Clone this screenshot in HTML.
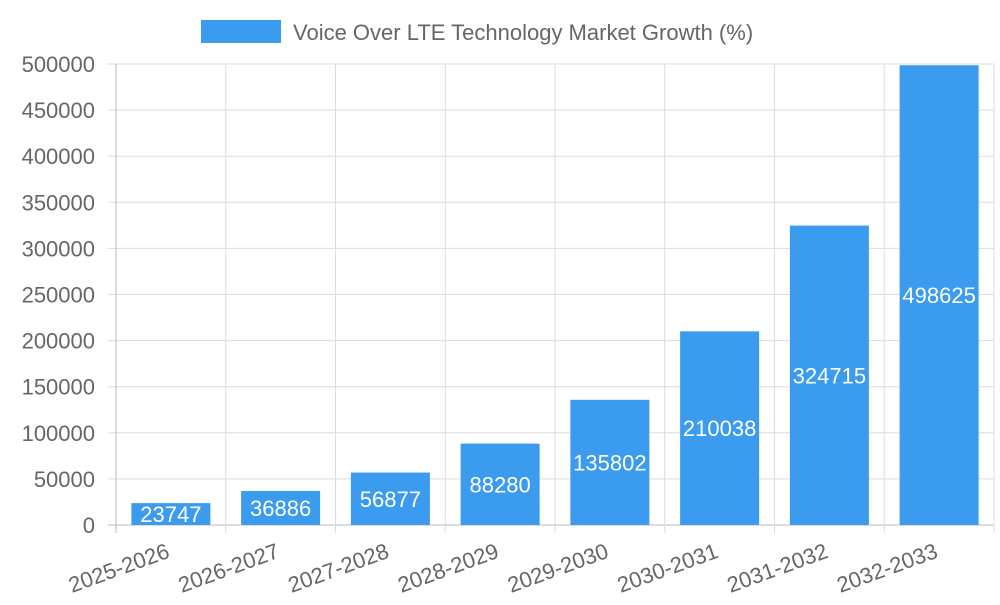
<!DOCTYPE html>
<html><head><meta charset="utf-8"><style>
body{margin:0;background:#fff;width:1000px;height:600px;overflow:hidden;font-family:"Liberation Sans",sans-serif}
</style></head><body>
<svg id="chart" width="1000" height="600" font-family="Liberation Sans, sans-serif">
<g>
<rect x="201" y="20" width="80" height="23" fill="#3a9bef"/>
<text x="293" y="40" font-size="22" fill="#666">Voice Over LTE Technology Market Growth (%)</text>
</g>
<g id="grid"></g><g id="bars"></g><g id="labels"></g>
</svg>
<script>
const categories=["2025-2026","2026-2027","2027-2028","2028-2029","2029-2030","2030-2031","2031-2032","2032-2033"];
const values=[23747,36886,56877,88280,135802,210038,324715,498625];
const yTicks=[0,50000,100000,150000,200000,250000,300000,350000,400000,450000,500000];
const L=116,R=994,T=64,B=525,yMax=500000;
const NS="http://www.w3.org/2000/svg";
const bw=(R-L)/categories.length;
const x=i=>L+i*bw;
const y=v=>B-(v/yMax)*(B-T);
function mk(tag,attrs,parent){const e=document.createElementNS(NS,tag);for(const k in attrs)e.setAttribute(k,attrs[k]);document.getElementById(parent).appendChild(e);return e;}
yTicks.forEach(t=>{
 const g=mk("line",{x1:L-8,x2:R,y1:y(t),y2:y(t),stroke:t===0?"#bbb":"#ddd","stroke-width":1},"grid");
 
 
 const tx=mk("text",{x:95,y:y(t)+8,"text-anchor":"end","font-size":22,fill:"#666"},"labels");
 tx.textContent=t;
 
 
});
for(let i=0;i<=categories.length;i++){
 const g=mk("line",{x1:x(i),x2:x(i),y1:T,y2:B+8,stroke:i===0?"#bbb":"#ddd","stroke-width":1},"grid");
 
 
}
categories.forEach((c,i)=>{
 const cx=x(i)+bw/2,w=79;
 const r=mk("rect",{x:cx-w/2,y:y(values[i]),width:w,height:B-y(values[i]),fill:"#3a9bef"},"bars");
 
 
 const v=mk("text",{x:cx,y:(y(values[i])+B)/2+8,"text-anchor":"middle","font-size":22,fill:"#fff"},"labels");
 v.textContent=values[i];
 
 
 const l=mk("text",{x:cx,y:B+32,"text-anchor":"end","font-size":22,fill:"#666",transform:`rotate(-20 ${cx} ${B+32})`},"labels");
 l.textContent=c;
 
 
});
</script>
</body></html>
